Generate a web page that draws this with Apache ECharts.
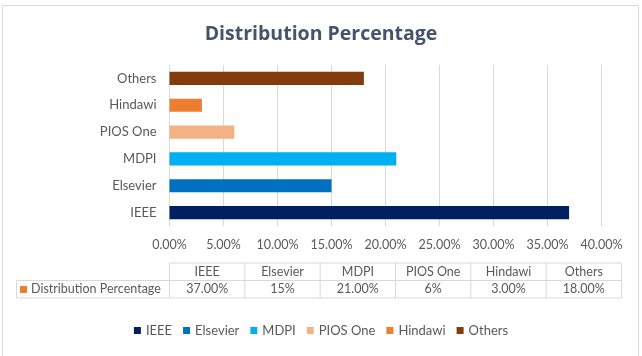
<!DOCTYPE html>
<html>
<head>
<meta charset="utf-8">
<script src="https://cdn.jsdelivr.net/npm/echarts@6/dist/echarts.min.js"></script>
<style>
  html, body { margin: 0; padding: 0; background: #fff; }
  #main { width: 642px; height: 356px; }
</style>
</head>
<body>
<div id="main"></div>
<script>
var categories = ['IEEE', 'Elsevier', 'MDPI', 'PIOS One', 'Hindawi', 'Others'];
var values = [37, 15, 21, 6, 3, 18];
var tableLabels = ['37.00%', '15%', '21.00%', '6%', '3.00%', '18.00%'];
var seriesName = 'Distribution Percentage';
var colors = ['#002060', '#0070c0', '#00b0f0', '#f4b183', '#ed7d31', '#843c0c'];

var FONT = 'Lato';
var textColor = '#595959';
var lineColor = '#d9d9d9';

var myChart = echarts.init(document.getElementById('main'));

// 每个分类一个系列，这样图例可以显示每个分类
var series = categories.map(function (name, i) {
  return {
    name: name,
    type: 'bar',
    stack: 'all',
    barWidth: '49%',
    itemStyle: { color: colors[i] },
    data: categories.map(function (c, j) { return j === i ? values[i] : '-'; })
  };
});

// 底部数据表
var tableLeft = 16.5, tableX0 = 169.5, tableRight = 621.5;
var rowTop = 263, rowMid = 280.5, rowBottom = 298;
var colW = (tableRight - tableX0) / categories.length;
var table = [];
function hline(x1, x2, y) {
  table.push({ type: 'line', shape: { x1: x1, y1: y, x2: x2, y2: y }, style: { stroke: lineColor, lineWidth: 1 } });
}
function vline(x, y1, y2) {
  table.push({ type: 'line', shape: { x1: x, y1: y1, x2: x, y2: y2 }, style: { stroke: lineColor, lineWidth: 1 } });
}
hline(tableX0, tableRight, rowTop);
hline(tableLeft, tableRight, rowMid);
hline(tableLeft, tableRight, rowBottom);
vline(tableLeft, rowMid, rowBottom);
for (var k = 0; k <= categories.length; k++) {
  vline(tableX0 + k * colW, rowTop, rowBottom);
}
categories.forEach(function (c, i) {
  var cx = tableX0 + (i + 0.5) * colW;
  table.push({ type: 'text', x: cx, y: (rowTop + rowMid) / 2,
    style: { text: c, fill: textColor, font: '12.5px ' + FONT, align: 'center', verticalAlign: 'middle' } });
  table.push({ type: 'text', x: cx, y: (rowMid + rowBottom) / 2,
    style: { text: tableLabels[i], fill: textColor, font: '12.5px ' + FONT, align: 'center', verticalAlign: 'middle' } });
});
table.push({ type: 'rect', shape: { x: 20, y: 286, width: 7, height: 7 }, style: { fill: '#ed7d31' } });
table.push({ type: 'text', x: 31, y: (rowMid + rowBottom) / 2,
  style: { text: seriesName, fill: textColor, font: '12.5px ' + FONT, align: 'left', verticalAlign: 'middle' } });

var option = {
  backgroundColor: '#fff',
  animation: false,
  title: {
    text: 'Distribution Percentage',
    left: 'center',
    top: 19,
    textStyle: { fontFamily: 'Open Sans', fontSize: 19.5, fontWeight: 'bold', color: '#44546a' }
  },
  legend: {
    bottom: 14,
    left: 'center',
    icon: 'rect',
    itemWidth: 7,
    itemHeight: 7,
    itemGap: 11,
    textStyle: { fontFamily: FONT, fontSize: 13, color: textColor },
    data: categories
  },
  grid: { left: 169.5, right: 40.5, top: 65, bottom: 130, containLabel: false },
  xAxis: {
    type: 'value',
    min: 0,
    max: 40,
    interval: 5,
    axisLine: { show: false },
    axisTick: { show: false },
    splitLine: { lineStyle: { color: lineColor } },
    axisLabel: {
      color: textColor, fontFamily: FONT, fontSize: 12.5, margin: 12,
      formatter: function (v) { return v.toFixed(2) + '%'; }
    }
  },
  yAxis: {
    type: 'category',
    data: categories,
    axisLine: { show: false },
    axisTick: { show: false },
    axisLabel: { color: textColor, fontFamily: FONT, fontSize: 13, margin: 13 }
  },
  graphic: [
    { type: 'rect', z: -10, shape: { x: 2.5, y: 5.5, width: 636, height: 360 },
      style: { fill: '#fff', stroke: '#d9d9d9', lineWidth: 1 } }
  ].concat(table),
  series: series
};
myChart.setOption(option);
window.addEventListener('resize', function () {
  myChart.resize();
});
</script>
</body>
</html>
